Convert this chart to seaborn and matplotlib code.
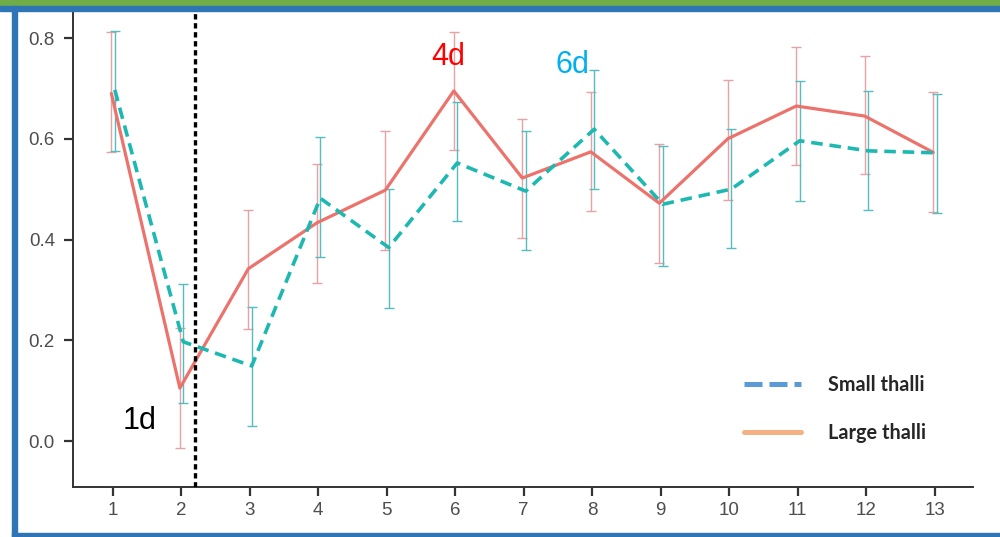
import numpy as np
import pandas as pd
import matplotlib
matplotlib.use("Agg")
import matplotlib.pyplot as plt
import seaborn as sns
from matplotlib.lines import Line2D
from matplotlib.patches import Rectangle

# ---------------- data ----------------
days = list(range(1, 14))
small_mean = [0.697, 0.197, 0.149, 0.482, 0.384, 0.552, 0.496, 0.619, 0.470, 0.500, 0.596, 0.576, 0.572]
small_low = [0.576, 0.075, 0.030, 0.366, 0.264, 0.437, 0.379, 0.500, 0.348, 0.383, 0.476, 0.458, 0.453]
small_high = [0.813, 0.312, 0.267, 0.603, 0.501, 0.672, 0.615, 0.736, 0.586, 0.619, 0.714, 0.695, 0.689]
large_mean = [0.690, 0.105, 0.342, 0.433, 0.498, 0.695, 0.522, 0.574, 0.472, 0.600, 0.665, 0.645, 0.573]
large_low = [0.574, -0.013, 0.222, 0.313, 0.379, 0.578, 0.403, 0.457, 0.353, 0.478, 0.548, 0.530, 0.455]
large_high = [0.811, 0.224, 0.459, 0.550, 0.615, 0.812, 0.639, 0.693, 0.590, 0.717, 0.782, 0.765, 0.692]
y_ticks = [0.0, 0.2, 0.4, 0.6, 0.8]
legend_labels = ["Small thalli", "Large thalli"]
annotations = [("1d", 1.15, 0.024, "#000000"), ("4d", 5.90, 0.746, "#FF0000"), ("6d", 7.71, 0.730, "#00B0F0")]
marker_day = 2.2

# ---------------- styling ----------------
sns.set_style("ticks")
plt.rcParams["font.family"] = ["Liberation Sans", "DejaVu Sans"]

RED = "#EC726C"
TEAL = "#1DB8B1"
RED_ERR = "#E6A3A3"
TEAL_ERR = "#56BCBE"
DODGE = {"Large": -0.02, "Small": 0.03}

df = pd.DataFrame({
    "day": days * 2,
    "group": ["Small"] * 13 + ["Large"] * 13,
    "mean": small_mean + large_mean,
    "low": small_low + large_low,
    "high": small_high + large_high,
})
df["x"] = df["day"] + df["group"].map(DODGE)

fig = plt.figure(figsize=(10, 5.37), dpi=100)
ax = fig.add_axes([0.073, 1 - 487 / 537, 0.9, (487 - 10) / 537])

# error bars
for grp, col in [("Large", RED_ERR), ("Small", TEAL_ERR)]:
    d = df[df["group"] == grp]
    ax.errorbar(d["x"], d["mean"], yerr=[d["mean"] - d["low"], d["high"] - d["mean"]],
                fmt="none", ecolor=col, elinewidth=1.0, capsize=3.5, capthick=1.0, zorder=2)

sns.lineplot(data=df, x="x", y="mean", hue="group", style="group",
             palette={"Small": TEAL, "Large": RED},
             dashes={"Small": (3.2, 1.9), "Large": ""},
             hue_order=["Large", "Small"], style_order=["Large", "Small"],
             linewidth=2.3, legend=False, ax=ax, zorder=3, errorbar=None, sort=True)
# slightly heavier dashed line, as in the original
for ln in ax.get_lines():
    if ln.get_linestyle() != "-":
        ln.set_linewidth(2.6)

ax.axvline(marker_day, color="black", linewidth=2.4, linestyle=(0, (1.6, 1.1)), zorder=4)

for txt, x, y, c in annotations:
    ha = "left" if txt == "1d" else "center"
    ax.text(x, y, txt, color=c, fontsize=22, ha=ha, va="baseline", zorder=5)

ax.set_xlim(0.42, 13.56)
ax.set_ylim(-0.0913, 0.8556)
ax.set_xticks(days)
ax.set_xticklabels([str(d) for d in days])
ax.set_yticks(y_ticks)
ax.set_yticklabels([f"{v:.1f}" for v in y_ticks])
ax.set_xlabel("")
ax.set_ylabel("")
for s in ["top", "right"]:
    ax.spines[s].set_visible(False)
for s in ["left", "bottom"]:
    ax.spines[s].set_color("#333333")
    ax.spines[s].set_linewidth(1.4)
ax.tick_params(axis="both", colors="#333333", width=1.6, length=6.5, labelsize=13.5,
               labelcolor="#4D4D4D")
ax.tick_params(axis="y", pad=6.5)
ax.tick_params(axis="x", pad=4.5)
ax.set_facecolor("white")

handles = [Line2D([], [], color="#5B9BD5", linewidth=3.6, linestyle=(0, (3.6, 1.4))),
           Line2D([], [], color="#F4B183", linewidth=3.6)]
leg = fig.legend(handles, legend_labels, loc="center left",
                 bbox_to_anchor=(0.726, 1 - 409 / 537), frameon=False,
                 handlelength=2.9, handletextpad=1.35, labelspacing=1.45,
                 prop={"family": "Lato", "weight": "bold", "size": 14.3})

# slide frame decorations
fig.patches.append(Rectangle((0, 1 - 6 / 537), 1, 6 / 537, transform=fig.transFigure,
                             color="#70AD47", zorder=10))
fig.patches.append(Rectangle((0, 1 - 10.5 / 537), 1, 4.5 / 537, transform=fig.transFigure,
                             color="#2E75B6", zorder=10))
fig.patches.append(Rectangle((12 / 1000, 0), 5 / 1000, 1 - 6 / 537, transform=fig.transFigure,
                             color="#2E75B6", zorder=10))
fig.patches.append(Rectangle((12 / 1000, 0), 1 - 12 / 1000, 4 / 537, transform=fig.transFigure,
                             color="#2E75B6", zorder=10))

fig.savefig("out.png", dpi=100, facecolor="white")
